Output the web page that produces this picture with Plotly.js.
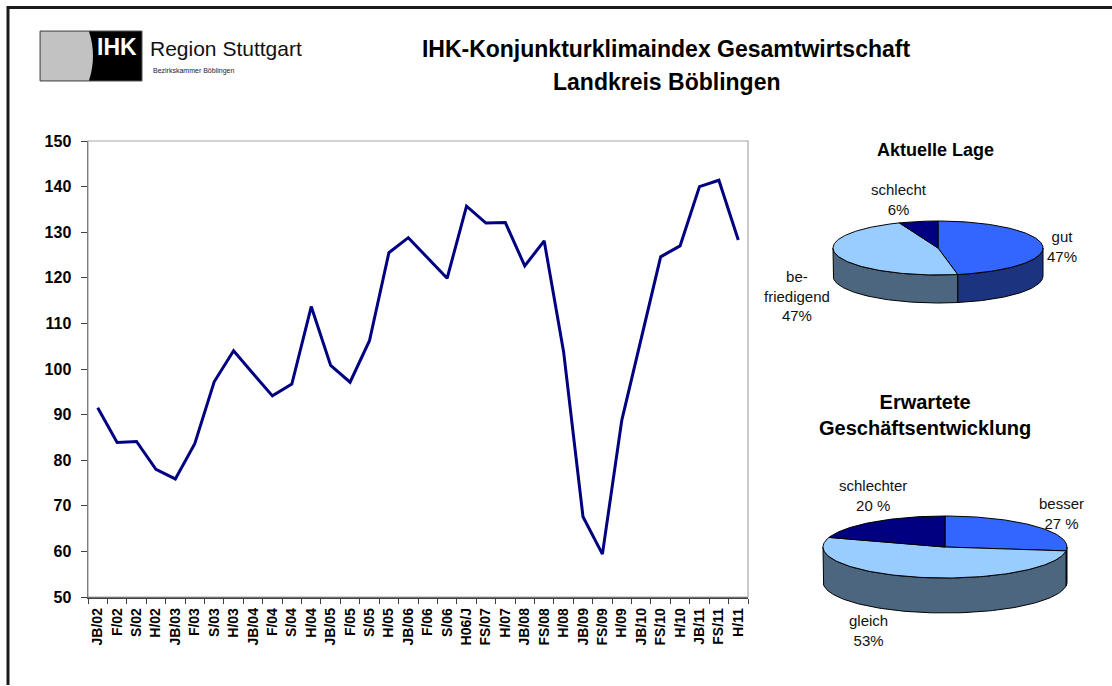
<!DOCTYPE html>
<html>
<head>
<meta charset="utf-8">
<script src="https://cdn.plot.ly/plotly-3.0.1.min.js"></script>
<style>
  html, body { margin: 0; padding: 0; background: #fff; }
  #chart { width: 1112px; height: 686px; }
</style>
</head>
<body>
<div id="chart"></div>
<script>
// ---- Data ----
const categories = ['JB/02','F/02','S/02','H/02','JB/03','F/03','S/03','H/03','JB/04','F/04','S/04','H/04',
  'JB/05','F/05','S/05','H/05','JB/06','F/06','S/06','H06/J','FS/07','H/07','JB/08','FS/08','H/08',
  'JB/09','FS/09','H/09','JB/10','FS/10','H/10','JB/11','FS/11','H/11'];
const klimaindex = [91.5, 83.9, 84.1, 78.0, 75.9, 83.6, 97.2, 104.0, 99.0, 94.1, 96.7, 113.7,
  100.8, 97.1, 106.2, 125.5, 128.8, 124.3, 119.9, 135.7, 132.0, 132.1, 122.6, 128.1, 103.8,
  67.6, 59.4, 88.8, 106.5, 124.6, 127.0, 140.0, 141.4, 128.3];
const yTicks = [50, 60, 70, 80, 90, 100, 110, 120, 130, 140, 150];

const lageNames = ['gut', 'be-<br>friedigend', 'schlecht'];
const lageValues = [47, 47, 6];
const lageSuffix = ['%', '%', '%'];

const entwNames = ['besser', 'gleich', 'schlechter'];
const entwValues = [27, 53, 20];
const entwSuffix = [' %', '%', ' %'];

// ---- Styling ----
const FONT = 'Arial, "Liberation Sans", sans-serif';
const topColors = ['#3366FF', '#99CCFF', '#000080'];
const sideColors = ['#1C3480', '#4D6680', '#000040'];

function pieTraces(values, cx, cy, rx, ry, depth) {
  const total = values.reduce((s, v) => s + v, 0);
  const sides = [], tops = [];
  let a = 0;
  values.forEach((v, i) => {
    const b = a + v / total * 2 * Math.PI;
    const n = Math.max(8, Math.round((b - a) * 40));
    const tx = [cx], ty = [cy];
    for (let k = 0; k <= n; k++) {
      const t = a + (b - a) * k / n;
      tx.push(cx + rx * Math.sin(t)); ty.push(cy - ry * Math.cos(t));
    }
    tx.push(cx); ty.push(cy);
    tops.push({type: 'scatter', mode: 'lines', x: tx, y: ty, xaxis: 'x2', yaxis: 'y2',
      fill: 'toself', fillcolor: topColors[i], line: {color: '#000', width: 1},
      hoverinfo: 'skip', showlegend: false});
    const s = Math.max(a, Math.PI / 2), e = Math.min(b, 3 * Math.PI / 2);
    if (s < e) {
      const sx = [], sy = [];
      const m = Math.max(8, Math.round((e - s) * 40));
      for (let k = 0; k <= m; k++) {
        const t = s + (e - s) * k / m;
        sx.push(cx + rx * Math.sin(t)); sy.push(cy - ry * Math.cos(t));
      }
      for (let k = m; k >= 0; k--) {
        const t = s + (e - s) * k / m;
        sx.push(cx + rx * Math.sin(t)); sy.push(cy - ry * Math.cos(t) + depth);
      }
      sx.push(sx[0]); sy.push(sy[0]);
      sides.push({type: 'scatter', mode: 'lines', x: sx, y: sy, xaxis: 'x2', yaxis: 'y2',
        fill: 'toself', fillcolor: sideColors[i], line: {color: '#000', width: 1},
        hoverinfo: 'skip', showlegend: false});
    }
    a = b;
  });
  return sides.concat(tops);
}

const lineTrace = {
  type: 'scatter', mode: 'lines', x: categories, y: klimaindex,
  xaxis: 'x', yaxis: 'y',
  line: {color: '#000080', width: 3}, showlegend: false, hoverinfo: 'x+y'
};

const traces = [lineTrace]
  .concat(pieTraces(lageValues, 938, 248, 105, 27, 28))
  .concat(pieTraces(entwValues, 945, 547, 122, 31, 35));

function ann(x, y, text, size, bold, extra) {
  return Object.assign({xref: 'x2', yref: 'y2', x: x, y: y, text: text, showarrow: false,
    xanchor: 'center', yanchor: 'middle',
    font: {family: FONT, size: size, color: '#111', weight: bold ? 'bold' : 'normal'}}, extra || {});
}

const W = 1112, H = 686;
const annotations = [
  ann(666, 82, 'Landkreis Böblingen', 23, true, {font: {family: FONT, size: 23, color: '#000', weight: 'bold'}}),
  ann(935, 150, 'Aktuelle Lage', 18, true, {font: {family: FONT, size: 18, color: '#000', weight: 'bold'}}),
  ann(925, 415, 'Erwartete<br>Geschäftsentwicklung', 20, true, {font: {family: FONT, size: 20, color: '#000', weight: 'bold'}}),
  // logo texts
  ann(117, 47, 'IHK', 23, true, {font: {family: FONT, size: 23, color: '#fff', weight: 'bold'}}),
  ann(148, 48, 'Region Stuttgart', 21, false, {xanchor: 'left', font: {family: FONT, size: 21, color: '#111'}}),
  ann(151, 71, 'Bezirkskammer Böblingen', 7, false, {xanchor: 'left', font: {family: FONT, size: 7, color: '#222'}}),
  // pie labels
  ann(1062, 246, lageNames[0] + '<br>' + lageValues[0] + lageSuffix[0], 15, false),
  ann(797, 296, lageNames[1] + '<br>' + lageValues[1] + lageSuffix[1], 15, false),
  ann(899, 199, lageNames[2] + '<br>' + lageValues[2] + lageSuffix[2], 15, false),
  ann(1061, 513, entwNames[0] + '<br>' + entwValues[0] + entwSuffix[0], 15, false),
  ann(868, 630, entwNames[1] + '<br>' + entwValues[1] + entwSuffix[1], 15, false),
  ann(873, 495, entwNames[2] + '<br>' + entwValues[2] + entwSuffix[2], 15, false)
];

const shapes = [
  {type: 'line', xref: 'x2', yref: 'y2', x0: 8, y0: 7.5, x1: 1112, y1: 7.5, line: {color: '#1a1a1a', width: 3}},
  {type: 'line', xref: 'x2', yref: 'y2', x0: 8, y0: 6, x1: 8, y1: 685, line: {color: '#1a1a1a', width: 3}},
  {type: 'rect', xref: 'x2', yref: 'y2', x0: 88, y0: 141, x1: 748, y1: 597, layer: 'below',
    line: {color: '#a6a6a6', width: 1.2}, fillcolor: 'rgba(0,0,0,0)'},
  {type: 'rect', xref: 'x2', yref: 'y2', x0: 40, y0: 31, x1: 142, y1: 81, fillcolor: '#000',
    line: {color: '#555', width: 1}},
  {type: 'path', xref: 'x2', yref: 'y2', path: 'M 40.5 31.5 L 89 31.5 Q 97 56 89 80.5 L 40.5 80.5 Z',
    fillcolor: '#c2c2c2', line: {color: '#c2c2c2', width: 0}}
];

const layout = {
  width: W, height: H,
  margin: {l: 0, r: 0, t: 0, b: 0},
  paper_bgcolor: '#fff', plot_bgcolor: 'rgba(0,0,0,0)',
  showlegend: false,
  title: {text: 'IHK-Konjunkturklimaindex Gesamtwirtschaft', x: 666 / W, y: 1 - 49 / H,
    xanchor: 'center', yanchor: 'middle', xref: 'paper', yref: 'paper',
    font: {family: FONT, size: 23, color: '#000', weight: 'bold'}},
  xaxis: {
    domain: [88 / W, 748 / W], anchor: 'y', type: 'category', range: [-0.5, 33.5],
    tickangle: -90, tickfont: {family: FONT, size: 14, color: '#000', weight: 'bold'},
    showline: true, linecolor: '#404040', linewidth: 1.5,
    ticks: 'outside', ticklen: 5, tickcolor: '#404040', tickwidth: 1, tickson: 'boundaries',
    ticklabelstandoff: 4,
    showgrid: false, zeroline: false, fixedrange: true
  },
  yaxis: {
    domain: [1 - 597 / H, 1 - 141 / H], anchor: 'x', range: [50, 150],
    tickvals: yTicks, ticktext: yTicks.map(String),
    tickfont: {family: FONT, size: 16, color: '#000', weight: 'bold'},
    showline: true, linecolor: '#404040', linewidth: 1.5,
    ticks: 'outside', ticklen: 6, tickcolor: '#404040', tickwidth: 1,
    ticklabelstandoff: 6,
    showgrid: false, zeroline: false, fixedrange: true
  },
  xaxis2: {domain: [0, 1], anchor: 'y2', range: [0, W], visible: false, fixedrange: true},
  yaxis2: {domain: [0, 1], anchor: 'x2', range: [H, 0], visible: false, fixedrange: true},
  shapes: shapes,
  annotations: annotations
};

Plotly.newPlot('chart', traces, layout, {displayModeBar: false, staticPlot: true});
</script>
</body>
</html>
